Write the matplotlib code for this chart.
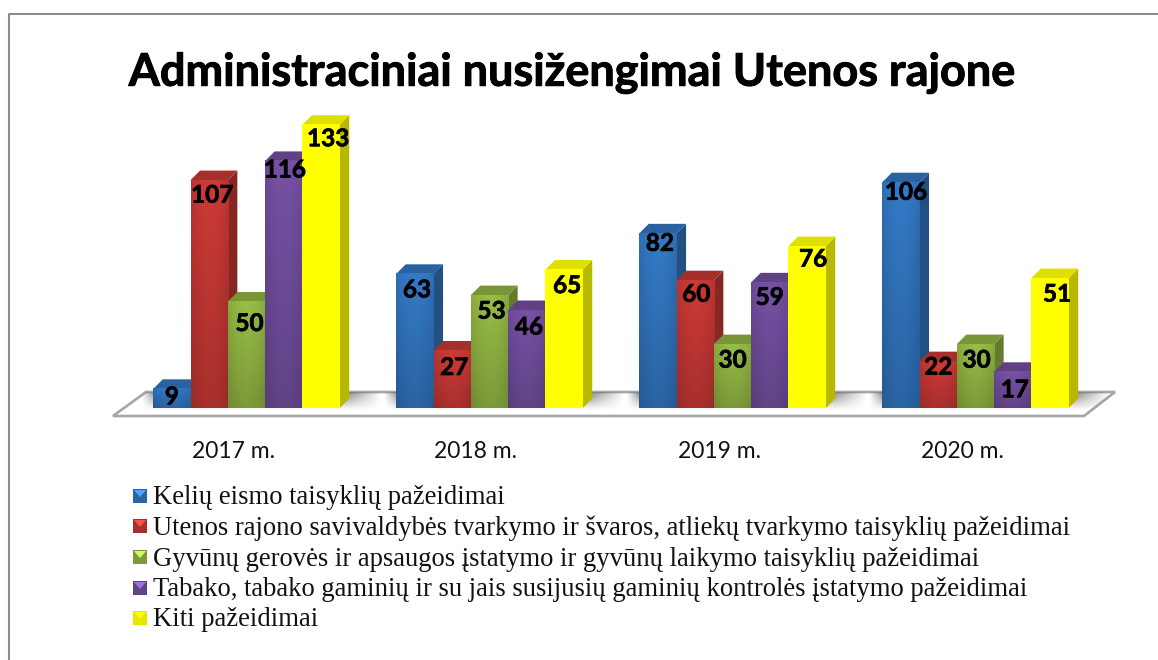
import numpy as np
import matplotlib
matplotlib.use('Agg')
import matplotlib.pyplot as plt
import matplotlib.patheffects as pe
from matplotlib.colors import to_rgb
from matplotlib.lines import Line2D
from matplotlib.patches import Polygon, Rectangle
from matplotlib.transforms import Affine2D

title = 'Administraciniai nusižengimai Utenos rajone'
years = ['2017 m.', '2018 m.', '2019 m.', '2020 m.']
series_names = [
    'Kelių eismo taisyklių pažeidimai',
    'Utenos rajono savivaldybės tvarkymo ir švaros, atliekų tvarkymo taisyklių pažeidimai',
    'Gyvūnų gerovės ir apsaugos įstatymo ir gyvūnų laikymo taisyklių pažeidimai',
    'Tabako, tabako gaminių ir su jais susijusių gaminių kontrolės įstatymo pažeidimai',
    'Kiti pažeidimai',
]
# bar heights as drawn
keliu = [9, 63, 82, 106]
utenos = [107, 27, 60, 22]
gyvunu = [50, 53, 30, 30]
tabako = [116, 46, 59, 17]
kiti = [133, 65, 76, 61]
series = [keliu, utenos, gyvunu, tabako, kiti]
# the printed label of the last 2020 bar does not agree with its height
labels = [
    [9, 63, 82, 106],
    [107, 27, 60, 22],
    [50, 53, 30, 30],
    [116, 46, 59, 17],
    [133, 65, 76, 51],
]
colors = ['#2f6fb5', '#bb3531', '#8aab3f', '#6c4a96', '#ffff00']

W, H = 1158, 660
PX_X = 243.0     # pixels per group
PX_Y = 2.13      # pixels per count
BAR = 37.3 / PX_X
DX = 9.5 / PX_X  # 3d depth
DY = 9.5 / PX_Y
BASE_X, BASE_Y = 246.5, 408

fig = plt.figure(figsize=(W / 100, H / 100), dpi=100)
ax = fig.add_axes([0, 0, 1, 1])
xlim = (-BASE_X / PX_X, (W - BASE_X) / PX_X)
ylim = ((BASE_Y - H) / PX_Y, BASE_Y / PX_Y)
ax.set_axis_off()

# pixel coordinates, origin top left
pix = Affine2D().scale(1, -1).translate(0, H)


def x_of(px):
    return (px - BASE_X) / PX_X


def y_of(py):
    return (BASE_Y - py) / PX_Y


def shade(c, k):
    return tuple(min(1, v * k) for v in to_rgb(c))


def bar_gradient(c, flat=False):
    # lighter near the top and at the middle of the bar
    rows = np.linspace(1.1, 0.9, 40)[:, None]
    cols = 1 - 0.1 * np.abs(np.linspace(-1, 1, 20))[None, :] ** 2
    if flat:
        rows = np.ones_like(rows)
        cols = np.ones_like(cols)
    img = np.zeros((40, 20, 3))
    for i, v in enumerate(to_rgb(c)):
        img[:, :, i] = np.clip(v * rows * cols, 0, 1)
    return img


# floor
floor_pts = [(x_of(113), y_of(416)), (x_of(146), y_of(392)),
             (x_of(1115), y_of(392)), (x_of(1084), y_of(416))]
floor = Polygon(floor_pts, closed=True, facecolor='white', edgecolor='#a6a6a6', lw=1.9, zorder=1)
ax.add_patch(floor)

# soft shadow on the floor
sx = np.linspace(x_of(113), x_of(1115), 500)
sy = np.linspace(y_of(392), y_of(416), 40)
xx, yy = np.meshgrid(sx, sy)
alpha = np.zeros_like(xx)
for g in range(len(years)):
    edge_l = g - 2.5 * BAR
    edge_r = g + 2.5 * BAR + DX
    ramp = np.clip((edge_r + 0.13 - xx) / 0.13, 0, 1) * np.clip((xx - edge_l + 0.05) / 0.05, 0, 1)
    alpha = np.maximum(alpha, ramp)
alpha = alpha * np.clip((yy - y_of(410)) / (y_of(393) - y_of(410)), 0, 1) * 0.75
shadow = np.zeros(xx.shape + (4,))
shadow[:, :, :3] = 0.45
shadow[:, :, 3] = alpha
im = ax.imshow(shadow, extent=(sx[0], sx[-1], sy[-1], sy[0]), aspect='auto', zorder=1.5, interpolation='bilinear')
im.set_clip_path(floor)

# bars, left to right so the nearer front hides the previous side
z = 2
for g in range(len(years)):
    for s, vals in enumerate(series):
        c = colors[s]
        left = g + (s - 2.5) * BAR
        v = vals[g]
        r = left + BAR
        side = Polygon([(r, 0), (r + DX, DY), (r + DX, v + DY), (r, v)], closed=True,
                       facecolor=shade(c, 0.72), edgecolor='none', zorder=z)
        top = Polygon([(left, v), (left + DX, v + DY), (r + DX, v + DY), (r, v)], closed=True,
                      facecolor=shade(c, 0.88), edgecolor='none', zorder=z)
        ax.add_patch(side)
        ax.add_patch(top)
        rect = ax.bar(left, v, BAR, align='edge', color=c, zorder=z + 0.1)[0]
        img = ax.imshow(bar_gradient(c, flat=(s == 4)), extent=(left, r, 0, v), aspect='auto', zorder=z + 0.2)
        z += 1

# value labels, offsets in pixels from the top centre of the bar front
label_dx = [[0, 2, 2, 5], [3, 2, 1, 0], [3, 2, 0, 1], [1, 2, 0, 2], [7, 3, 6, 7]]
label_dy = [[8, 16, 10, 10], [15, 17, 14, 6], [22, 16, 16, 16], [9, 17, 15, 18], [14, 16, 13, 16]]
for s, vals in enumerate(series):
    for g in range(len(years)):
        t = ax.text(g + (s - 2) * BAR + label_dx[s][g] / PX_X,
                    vals[g] - label_dy[s][g] / PX_Y,
                    str(labels[s][g]), ha='center', va='center', fontsize=17.5,
                    fontweight='bold', family='Lato', color='black', zorder=100)
        t.set_path_effects([pe.withStroke(linewidth=0.5, foreground='black')])

ax.set_xlim(xlim)
ax.set_ylim(ylim)

# category labels
for g, name in enumerate(years):
    ax.text(g - 13.5 / PX_X, y_of(452), name, ha='center', va='center', fontsize=16.5,
            family='Lato', color='#111111', zorder=100)

# title
t = fig.text(571.5, H - 73, title, ha='center', va='center', fontsize=32.4, fontweight='bold',
             family='Lato', color='black', transform=None)
t.set_path_effects([pe.withStroke(linewidth=0.7, foreground='black')])

# legend
leg_y = [496, 526, 557, 588, 618]
for s, name in enumerate(series_names):
    y0 = leg_y[s]
    c = colors[s]
    fig.add_artist(Rectangle((133, y0 - 7), 14, 14, facecolor=shade(c, 0.9), edgecolor='none', transform=pix))
    fig.add_artist(Polygon([(134, y0 - 6), (146, y0 - 6), (140, y0 + 1)], closed=True,
                           facecolor=shade(c, 1.5), edgecolor='none', transform=pix))
    fig.text(153, H - y0 - 2, name, ha='left', va='center', fontsize=19.2, family='Liberation Serif',
             color='#111111', transform=None)

# frame, only the top and left edges are in the picture
fig.add_artist(Line2D([8.5, 8.5, W], [H, 14, 14], color='#8c8c8c', lw=1.5, transform=pix))

fig.savefig('out.png', dpi=100)
